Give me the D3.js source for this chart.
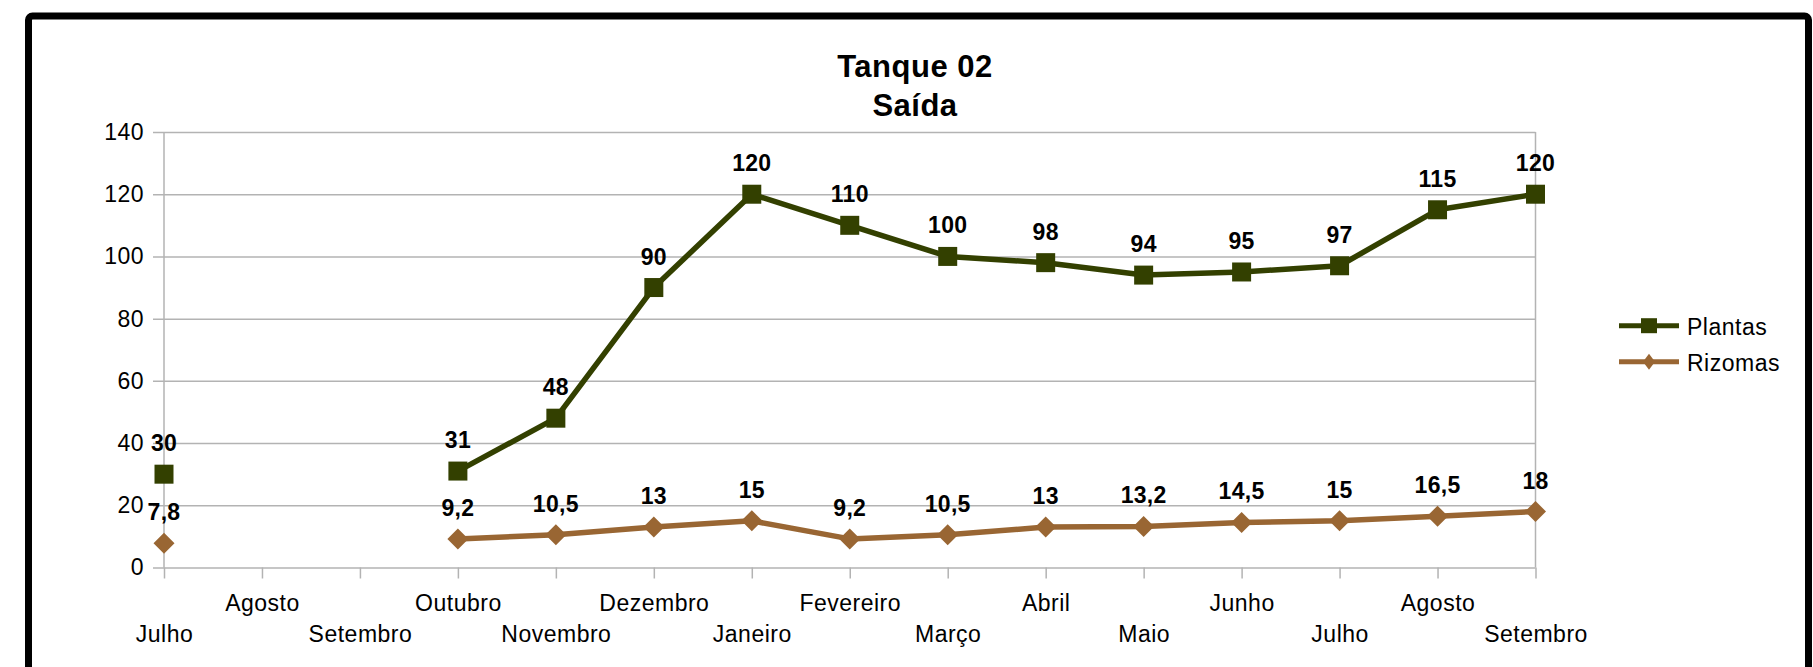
<!DOCTYPE html>
<html>
<head>
<meta charset="utf-8">
<script src="https://cdn.jsdelivr.net/npm/d3@7/dist/d3.min.js"></script>
<style>
  html, body { margin: 0; padding: 0; background: #fff; }
  svg { display: block; }
  text { font-family: "Liberation Sans", Arial, sans-serif; }
</style>
</head>
<body>
<svg id="chart" width="1813" height="667"></svg>
<script>
// ---- data ----
const categories = ["Julho","Agosto","Setembro","Outubro","Novembro","Dezembro","Janeiro","Fevereiro","Março","Abril","Maio","Junho","Julho","Agosto","Setembro"];
const plantas = [30, null, null, 31, 48, 90, 120, 110, 100, 98, 94, 95, 97, 115, 120];
const rizomas = [7.8, null, null, 9.2, 10.5, 13, 15, 9.2, 10.5, 13, 13.2, 14.5, 15, 16.5, 18];
const yTicks = [0, 20, 40, 60, 80, 100, 120, 140];
const seriesNames = ["Plantas", "Rizomas"];
const titleLines = ["Tanque 02", "Saída"];

(function () {
const colors = { Plantas: "#334000", Rizomas: "#996633" };

const svg = d3.select("#chart");

// frame
svg.append("rect")
  .attr("x", 28.5).attr("y", 16)
  .attr("width", 1780).attr("height", 720)
  .attr("rx", 4)
  .attr("fill", "#fff")
  .attr("stroke", "#000")
  .attr("stroke-width", 7);

// title
svg.append("g").selectAll("text").data(titleLines).join("text")
  .attr("x", 915)
  .attr("y", (d, i) => 77 + i * 39)
  .attr("text-anchor", "middle")
  .attr("font-size", 31)
  .attr("font-weight", "bold")
  .attr("letter-spacing", 0.5)
  .text(d => d);

const pLeft = 164, pRight = 1535.5, pTop = 132, pBottom = 567.5;
const x = d3.scalePoint().domain(d3.range(categories.length)).range([pLeft, pRight]);
const y = d3.scaleLinear().domain([0, 140]).range([pBottom, pTop]);

// grid + y axis
const yAxis = svg.append("g")
  .attr("transform", `translate(${pLeft},0)`)
  .call(d3.axisLeft(y).tickValues(yTicks).tickSize(0).tickPadding(20));
yAxis.select(".domain").remove();
yAxis.selectAll(".tick line")
  .attr("x1", -11).attr("x2", pRight - pLeft)
  .attr("stroke", "#b3b3b3").attr("stroke-width", 1.5);
yAxis.selectAll(".tick text")
  .attr("font-size", 23).attr("letter-spacing", 0.5)
  .attr("fill", "#000")
  .attr("font-family", "Liberation Sans, Arial, sans-serif");

// plot frame verticals
svg.append("line").attr("x1", pLeft).attr("x2", pLeft).attr("y1", pTop).attr("y2", pBottom)
  .attr("stroke", "#b3b3b3").attr("stroke-width", 1.5);
svg.append("line").attr("x1", pRight).attr("x2", pRight).attr("y1", pTop).attr("y2", pBottom)
  .attr("stroke", "#b3b3b3").attr("stroke-width", 1.5);

// x axis
const xAxis = svg.append("g")
  .attr("transform", `translate(0,${pBottom})`)
  .call(d3.axisBottom(x).tickSize(11).tickFormat(i => categories[i]));
xAxis.select(".domain").remove();
xAxis.selectAll(".tick line").attr("stroke", "#b3b3b3").attr("stroke-width", 1.5);
xAxis.selectAll(".tick text")
  .attr("font-size", 23).attr("letter-spacing", 0.5)
  .attr("fill", "#000")
  .attr("font-family", "Liberation Sans, Arial, sans-serif")
  .attr("dy", null)
  .attr("y", (i) => i % 2 === 1 ? 43 : 74);

// series
const series = [
  { name: "Plantas", values: plantas, marker: "square" },
  { name: "Rizomas", values: rizomas, marker: "diamond" }
];

const line = d3.line()
  .defined(d => d.v != null)
  .x(d => x(d.i))
  .y(d => y(d.v));

function markerPath(type, cx, cy, w, h) {
  if (type === "square") {
    return `M${cx - w / 2},${cy - h / 2}h${w}v${h}h${-w}Z`;
  }
  return `M${cx},${cy - h / 2}L${cx + w / 2},${cy}L${cx},${cy + h / 2}L${cx - w / 2},${cy}Z`;
}

const fmt = v => String(v).replace(".", ",");

series.forEach(s => {
  const pts = s.values.map((v, i) => ({ i, v }));
  const g = svg.append("g");
  g.append("path")
    .attr("d", line(pts))
    .attr("fill", "none")
    .attr("stroke", colors[s.name])
    .attr("stroke-width", 5.5)
    .attr("stroke-linejoin", "round");
  const valid = pts.filter(d => d.v != null);
  g.selectAll("path.m").data(valid).join("path")
    .attr("class", "m")
    .attr("d", d => s.marker === "square"
      ? markerPath("square", x(d.i), y(d.v), 19, 19)
      : markerPath("diamond", x(d.i), y(d.v), 21, 21))
    .attr("fill", colors[s.name]);
  g.selectAll("text").data(valid).join("text")
    .attr("x", d => x(d.i))
    .attr("y", d => y(d.v) - 23)
    .attr("text-anchor", "middle")
    .attr("font-size", 23)
    .attr("font-weight", "bold")
    .attr("letter-spacing", 0.3)
    .text(d => fmt(d.v));
});

// legend
const legend = svg.append("g");
series.forEach((s, k) => {
  const cy = 325.7 + k * 36;
  legend.append("line")
    .attr("x1", 1619).attr("x2", 1679).attr("y1", cy).attr("y2", cy)
    .attr("stroke", colors[s.name]).attr("stroke-width", 5);
  legend.append("path")
    .attr("d", s.marker === "square"
      ? markerPath("square", 1649, cy, 16, 15)
      : markerPath("diamond", 1649, cy, 12, 16))
    .attr("fill", colors[s.name]);
  legend.append("text")
    .attr("x", 1687).attr("y", cy + 9)
    .attr("font-size", 23).attr("letter-spacing", 0.5)
    .text(s.name);
});
})();
</script>
</body>
</html>
